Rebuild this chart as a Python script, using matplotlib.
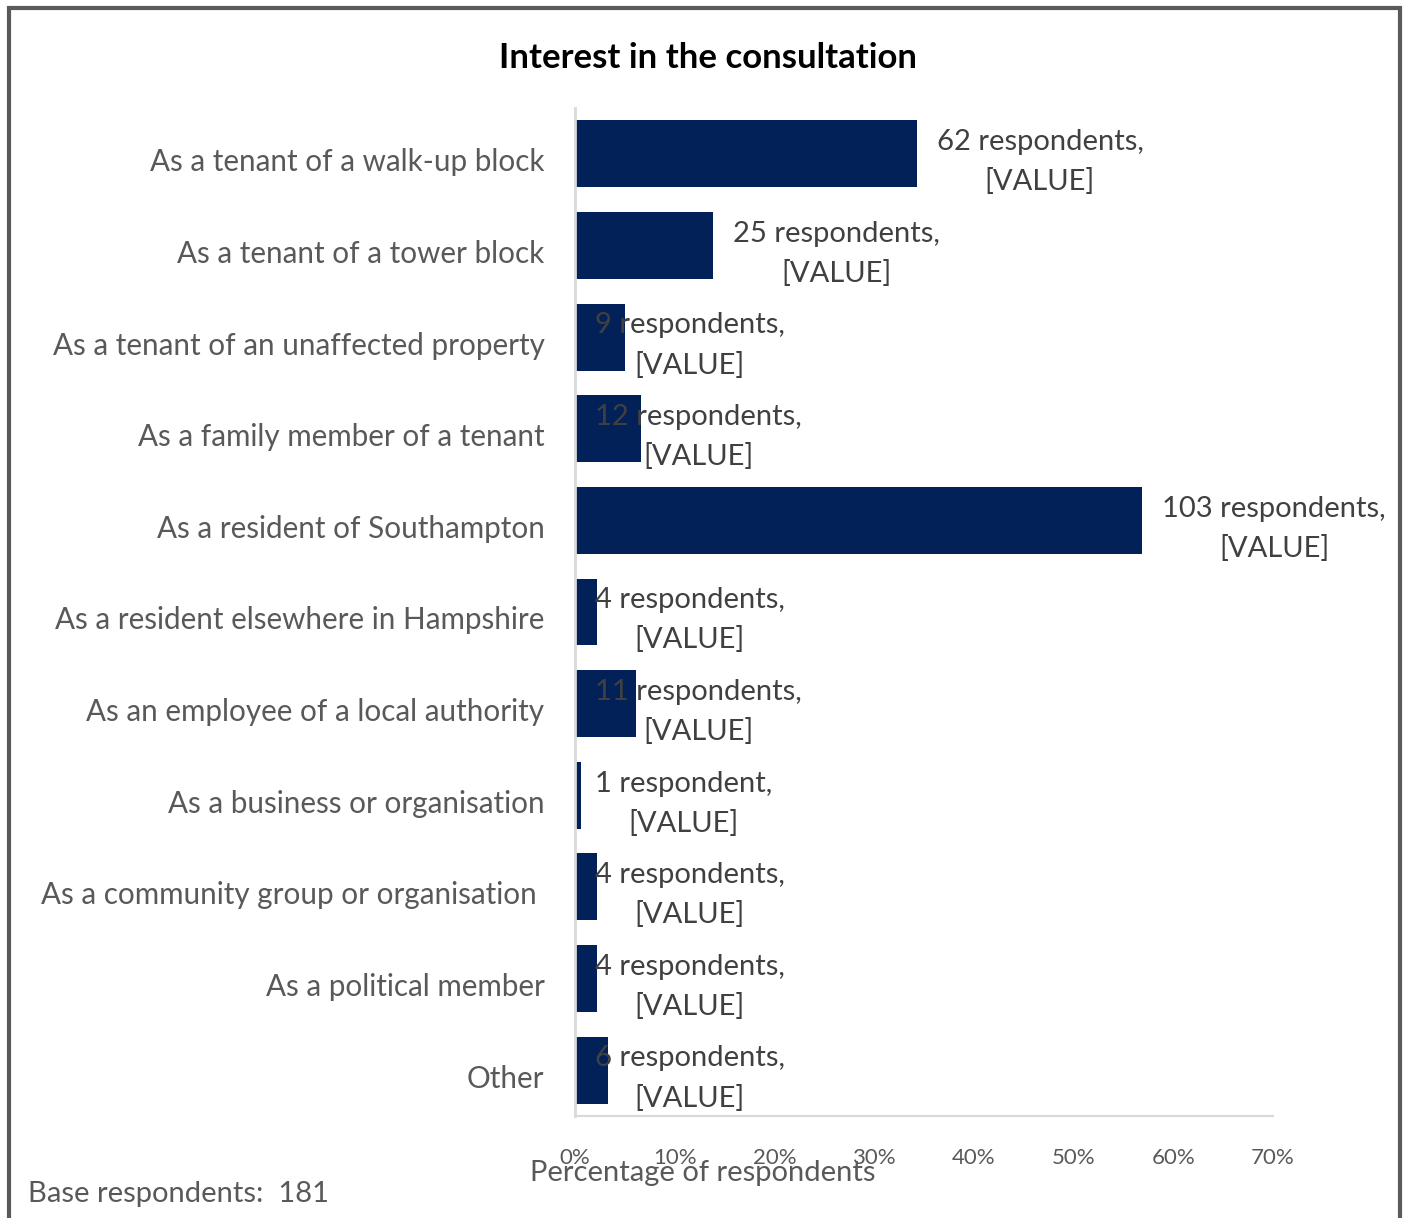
import matplotlib
matplotlib.use("Agg")
import matplotlib.pyplot as plt
import matplotlib.transforms as mtransforms
from matplotlib.patches import Rectangle

categories = [
    "As a tenant of a walk-up block",
    "As a tenant of a tower block",
    "As a tenant of an unaffected property",
    "As a family member of a tenant",
    "As a resident of Southampton",
    "As a resident elsewhere in Hampshire",
    "As an employee of a local authority",
    "As a business or organisation",
    "As a community group or organisation ",
    "As a political member",
    "Other",
]
counts = [62, 25, 9, 12, 103, 4, 11, 1, 4, 4, 6]
base = 181
x_ticks = [0, 10, 20, 30, 40, 50, 60, 70]

pcts = [c / base * 100 for c in counts]

plt.rcParams["font.family"] = ["Lato", "DejaVu Sans"]

fig = plt.figure(figsize=(14.06, 12.18), dpi=100)
ax = fig.add_axes([575 / 1406, 1 - 1116 / 1218, 698 / 1406, 1008 / 1218])

ypos = list(range(len(categories)))
ax.barh(ypos, pcts, height=0.73, color="#022158")
ax.set_ylim(len(categories) - 0.5, -0.5)
ax.set_xlim(0, 70)

ax.set_yticks(ypos)
ax.set_yticklabels(categories, fontsize=21.3, color="#595959")
ax.set_xticks(x_ticks)
ax.set_xticklabels([f"{t}%" for t in x_ticks], fontsize=16, color="#595959")
ax.tick_params(axis="y", length=0, pad=22)
ax.tick_params(axis="x", length=0, pad=23)

# nudge category names down a little
shift = mtransforms.ScaledTranslation(0, -6 / 100, fig.dpi_scale_trans)
for lab in ax.get_yticklabels():
    lab.set_transform(lab.get_transform() + shift)

for side in ["top", "right"]:
    ax.spines[side].set_visible(False)
ax.spines["left"].set_color("#d9d9d9")
ax.spines["left"].set_linewidth(2)
ax.spines["bottom"].set_color("#d9d9d9")
ax.spines["bottom"].set_linewidth(1.5)

# data labels: short bars get their label pinned near the axis
for y, p, c in zip(ypos, pcts, counts):
    word = "respondent" if c == 1 else "respondents"
    lx = p + 2 if p > 10 else 2
    ax.annotate(f"{c} {word},\n[VALUE]", xy=(lx, y), xytext=(0, -6),
                textcoords="offset points", ha="left", va="center",
                multialignment="center", fontsize=21, color="#404040",
                linespacing=1.6, annotation_clip=False)

fig.text(708 / 1406, 1 - 58 / 1218, "Interest in the consultation",
         ha="center", va="center", fontsize=25, fontweight="bold", color="black")
fig.text(703 / 1406, 1 - 1173 / 1218, "Percentage of respondents",
         ha="center", va="center", fontsize=21, color="#595959")
fig.text(28 / 1406, 1 - 1194 / 1218, "Base respondents:  181",
         ha="left", va="center", fontsize=21, color="#595959")

# outer chart frame (runs off the bottom edge)
fig.patches.append(Rectangle((9 / 1406, -0.05), 1391 / 1406, 1.05 - 8 / 1218,
                             transform=fig.transFigure, fill=False,
                             edgecolor="#5a5a5a", linewidth=3))

fig.savefig("out.png", dpi=100)
